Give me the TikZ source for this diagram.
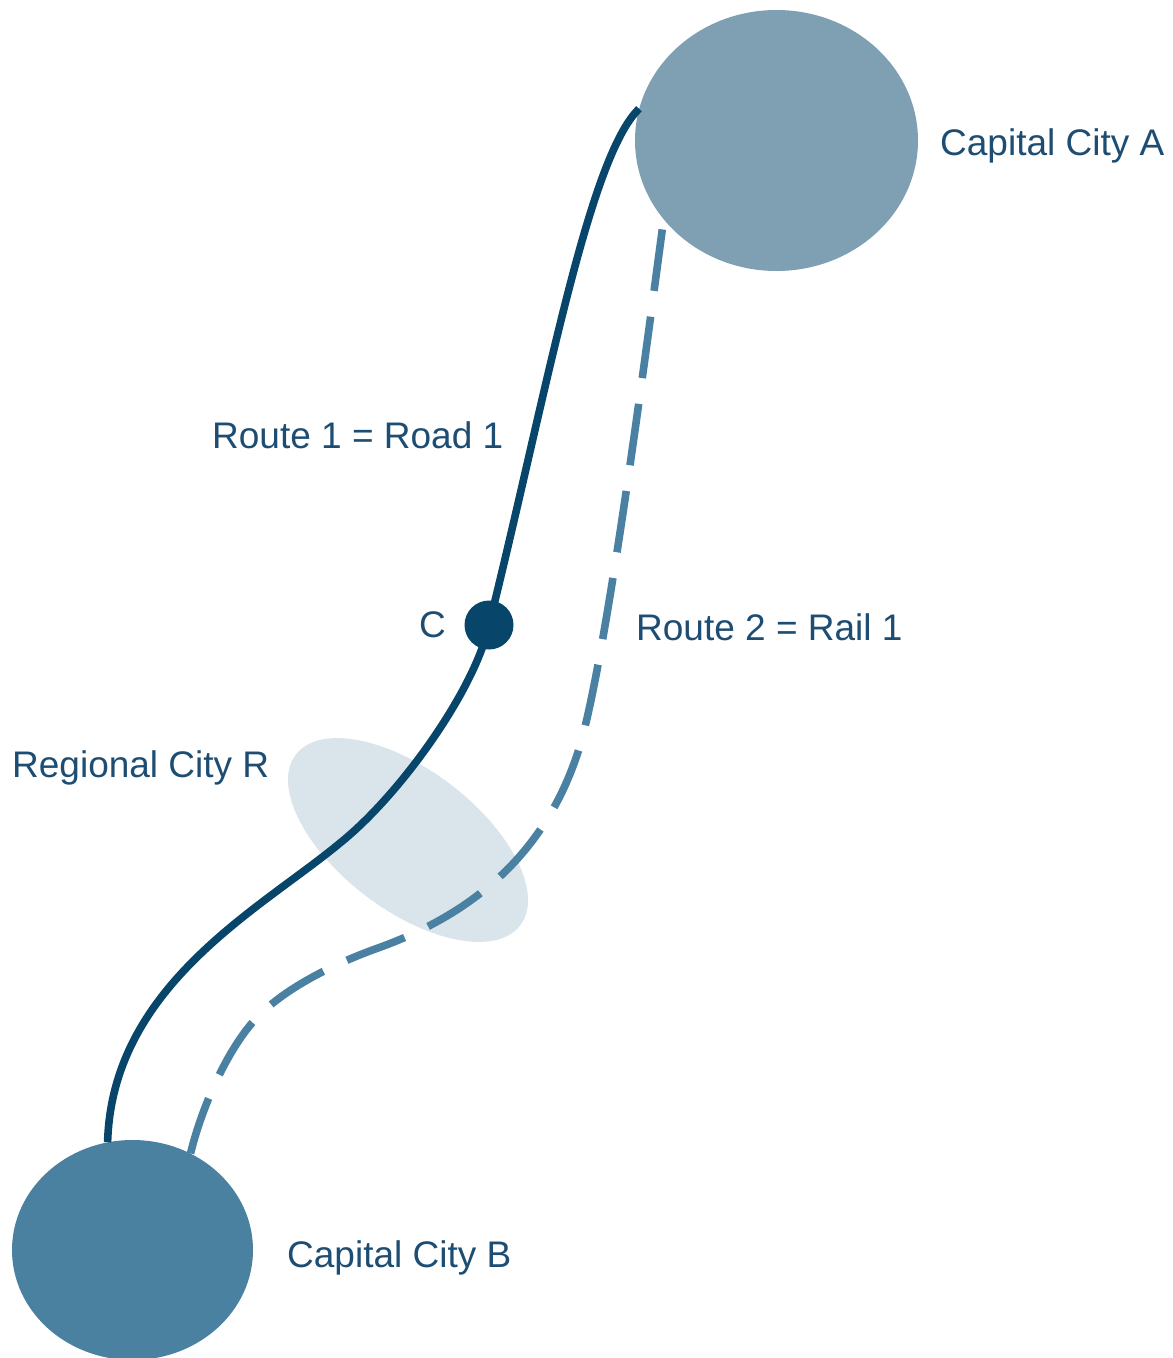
\documentclass[tikz,border=0pt]{standalone}
\usepackage{fontspec}
\setmainfont{Liberation Sans}
\usetikzlibrary{shapes.geometric}

\definecolor{cityA}{HTML}{7FA0B2}
\definecolor{cityB}{HTML}{4A80A0}
\definecolor{region}{HTML}{DAE4EB}
\definecolor{road}{HTML}{07466A}
\definecolor{rail}{HTML}{4A81A3}
\definecolor{labeltext}{HTML}{1D4D72}

\tikzset{
  city/.style={ellipse, inner sep=0pt, draw=none},
  roadline/.style={draw=road, line width=7.6pt, line cap=butt},
  railline/.style={draw=rail, line width=7.6pt, line cap=butt,
                   dash pattern=on 62pt off 26pt, dash phase=78pt},
  junction/.style={circle, fill=road, inner sep=0pt, minimum size=49pt},
  lbl/.style={text=labeltext, inner sep=0pt, anchor=base west,
              font=\fontsize{37}{41}\selectfont},
}

\begin{document}
\begin{tikzpicture}[x=1pt, y=-1pt]
  \useasboundingbox (0,0) rectangle (1173,1358);

  % cities
  \node[city, fill=cityA, minimum width=283pt, minimum height=261pt] (A) at (776.5,140.5) {};
  \node[city, fill=cityB, minimum width=241pt, minimum height=220pt] (B) at (132.5,1250) {};
  \node[city, fill=region, rotate=-37.25, minimum width=282pt, minimum height=140pt] (R) at (408,840) {};

  % junction C and the bends of both routes
  \coordinate (C) at (489,625);
  \coordinate (roadBend) at (340,843);
  \coordinate (railBend1) at (578,752);
  \coordinate (railBend2) at (378,948);
  \coordinate (railBend3) at (252,1023);

  % connector end points on the city borders
  \coordinate (roadA) at (A.167);
  \coordinate (roadB) at (B.103);
  \coordinate (railA) at (A.215);
  \coordinate (railB) at (B.59);

  % Route 2: rail
  \draw[railline] (railA)
      .. controls (650,319) and (606,667) .. (railBend1)
      .. controls (547,847) and (481,911) .. (railBend2)
      .. controls (336,963) and (281,989) .. (railBend3)
      .. controls (223,1057) and (200,1114) .. (railB);

  % Route 1: road
  \draw[roadline] (roadA) .. controls (588,158) and (545,400) .. (C);
  \draw[roadline] (C)
      .. controls (475,690) and (400,795) .. (roadBend)
      .. controls (262,908) and (112,985) .. (roadB);

  \node[junction] (Cdot) at (C) {};

  % labels
  \node[lbl] (labA) at (940,155) {Capital City A};
  \node[lbl] (labB) at (287,1267) {Capital City B};
  \node[lbl] (labR) at (12,777) {Regional City R};
  \node[lbl] (labC) at (419,637) {C};
  \node[lbl] (lab1) at (212,448) {Route 1 = Road 1};
  \node[lbl] (lab2) at (636,640) {Route 2 = Rail 1};
\end{tikzpicture}
\end{document}
